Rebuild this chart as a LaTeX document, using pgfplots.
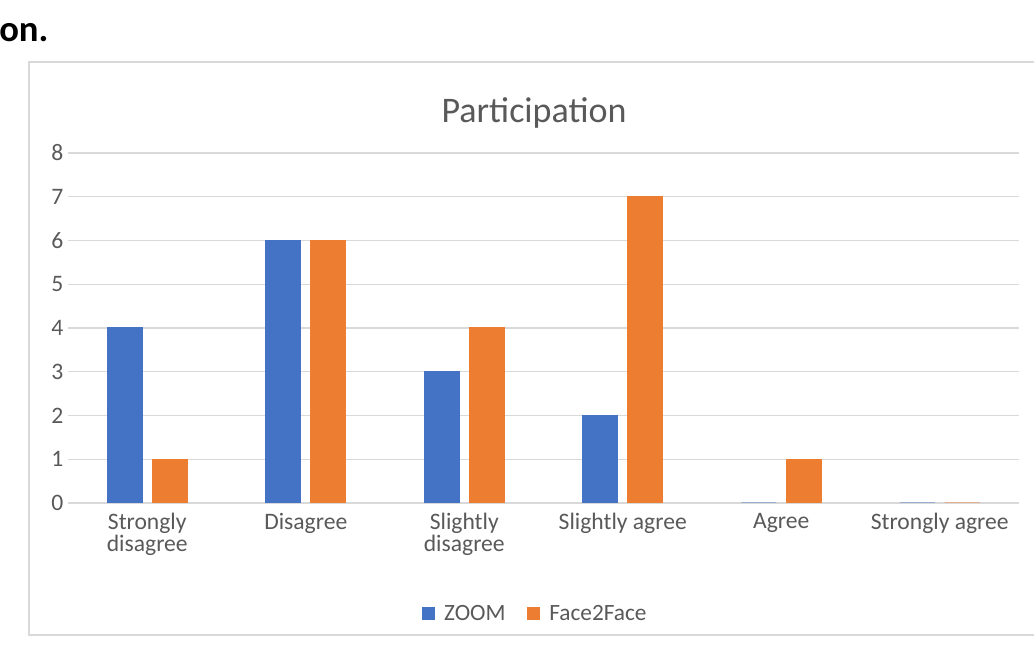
\documentclass[border=0pt]{standalone}
\usepackage{fontspec}
\setmainfont{Carlito}
\usepackage{pgfplots}
\pgfplotsset{compat=1.18}
\definecolor{zoomblue}{RGB}{68,114,196}
\definecolor{f2forange}{RGB}{237,125,49}
\definecolor{txtgray}{RGB}{89,89,89}
\definecolor{gridgray}{RGB}{217,217,217}
\begin{document}
\begin{tikzpicture}[x=0.75pt,y=0.75pt]
\useasboundingbox (0,0) rectangle (1034,645);
\draw[gridgray, line width=1.1pt] (29,583) rectangle (1050,10);
\node[anchor=base west, font=\bfseries\fontsize{27.5}{32}\selectfont, inner sep=0pt] at (-1,603) {on.};
\node[text=txtgray, font=\fontsize{27}{32}\selectfont, inner sep=0pt] at (534,532) {Participation};
\begin{axis}[
  at={(51pt,106.5pt)}, anchor=south west,
  scale only axis, width=713.25pt, height=262.5pt,
  ybar=7.5pt, bar width=26.25pt,
  xmin=-0.5, xmax=5.5, ymin=0, ymax=8,
  xtick={0,1,2,3,4,5},
  xticklabels={{Strongly\\disagree},Disagree,{Slightly\\disagree},Slightly agree,Agree,Strongly agree},
  xticklabel style={align=center, text=txtgray, font=\fontsize{17.7}{16.5}\selectfont},
  ytick={0,1,2,3,4,5,6,7,8},
  yticklabel style={text=txtgray, font=\fontsize{17.7}{21}\selectfont},
  /pgf/number format/assume math mode=true,
  ymajorgrids, grid style={gridgray, line width=1pt},
  axis x line*=bottom, axis y line*=left,
  y axis line style={draw=none},
  x axis line style={gridgray, line width=1.3pt},
  major tick style={draw=none},
  legend columns=2,
  legend style={at={(0.4916,-0.317)}, anchor=center, draw=none, fill=none,
    font=\fontsize{17.5}{21}\selectfont, text=txtgray,
    /tikz/every even column/.append style={column sep=14pt}},
  legend image code/.code={\fill[#1] (0pt,-4.5pt) rectangle (9pt,4.5pt); \path (14pt,0pt);},
]
\addplot[fill=zoomblue, draw=zoomblue, line width=0.75pt] coordinates {(0,4) (1,6) (2,3) (3,2) (4,0) (5,0)};
\addplot[fill=f2forange, draw=f2forange, line width=0.75pt] coordinates {(0,1) (1,6) (2,4) (3,7) (4,1) (5,0)};
\legend{ZOOM, Face2Face}
\end{axis}
\end{tikzpicture}
\end{document}
